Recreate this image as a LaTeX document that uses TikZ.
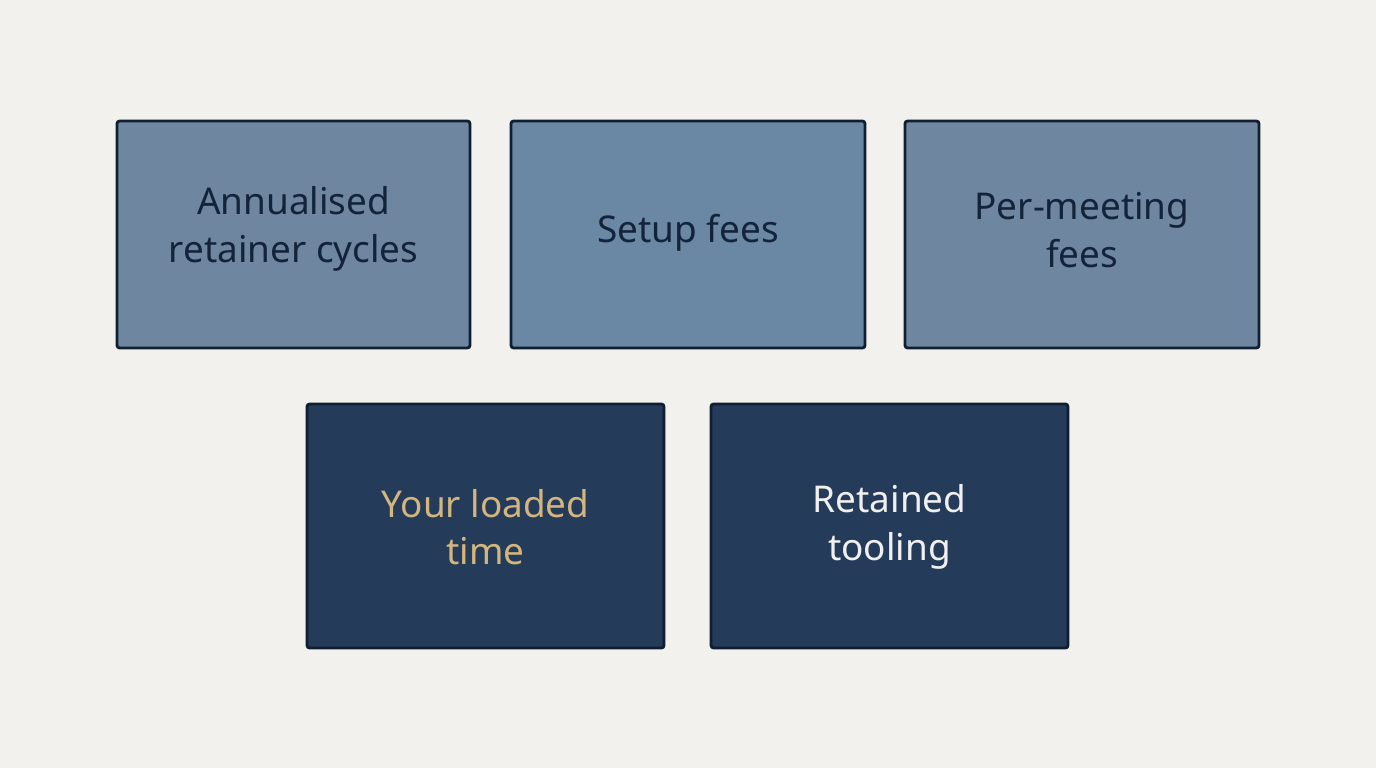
\documentclass[tikz,border=0pt]{standalone}
\usepackage{fontspec}
\setmainfont{Noto Sans}
\begin{document}
\begin{tikzpicture}[x=0.02cm,y=-0.02cm,
 box/.style={draw=boxline,line width=1.6pt,rounded corners=1.5pt},
 lbl/.style={align=center,font=\fontsize{21}{27}\selectfont}]
\definecolor{bg}{HTML}{F2F1EE}
\definecolor{boxline}{HTML}{0F1E30}
\definecolor{light}{HTML}{6F86A0}
\definecolor{lightb}{HTML}{6A87A3}
\definecolor{darkb}{HTML}{243B5A}
\definecolor{txt}{HTML}{13233A}
\definecolor{gold}{HTML}{D4B57E}
\definecolor{wht}{HTML}{F0F0F0}
\fill[bg] (0,0) rectangle (1376,768);
\useasboundingbox (0,0) rectangle (1376,768);
\draw[box,fill=light] (117,121) rectangle (470,348);
\draw[box,fill=lightb] (511,121) rectangle (865,348);
\draw[box,fill=light] (905,121) rectangle (1259,348);
\draw[box,fill=darkb] (307,404) rectangle (664,648);
\draw[box,fill=darkb] (711,404) rectangle (1068,648);
\node[lbl,text=txt] (a) at (293.5,229) {Annualised\\retainer cycles};
\node[lbl,text=txt] (b) at (688,233) {Setup fees};
\node[lbl,text=txt] (c) at (1082,230) {Per-meeting\\fees};
\node[lbl,text=gold] (d) at (485.5,527) {Your loaded\\time};
\node[lbl,text=wht] (e) at (889.5,527) {Retained\\tooling};
\end{tikzpicture}
\end{document}
